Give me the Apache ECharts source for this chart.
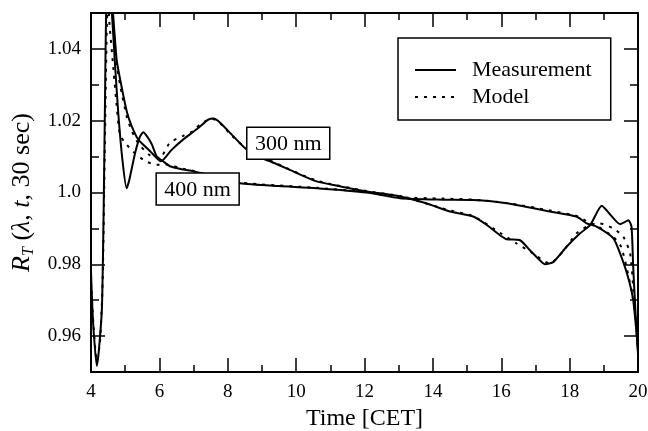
<!DOCTYPE html>
<html>
<head>
<meta charset="utf-8">
<script src="https://cdn.jsdelivr.net/npm/echarts@6/dist/echarts.min.js"></script>
<style>
html,body{margin:0;padding:0;background:#fff;}
#c{width:648px;height:431px;}
</style>
</head>
<body>
<div id="c"></div>
<script>
// ---- data ----
var xTicks = [4, 6, 8, 10, 12, 14, 16, 18, 20];
var yMajorTicks = [0.96, 0.98, 1.0, 1.02, 1.04];
var yMinorTicks = [0.97, 0.99, 1.01, 1.03];

var meas300 = [
  [4.00,0.978],[4.06,0.964],[4.17,0.9517],[4.23,0.956],[4.32,0.968],[4.37,0.995],[4.41,1.026],
  [4.45,1.052],[4.54,1.060],[4.64,1.0504],[4.75,1.037],[4.85,1.0316],[5.05,1.0224],[5.19,1.0185],
  [5.38,1.0148],[5.73,1.0115],[6.05,1.0087],[6.35,1.0118],[6.70,1.0148],[7.09,1.0176],[7.43,1.0203],
  [7.58,1.0206],[7.77,1.0195],[8.16,1.0157],[8.55,1.0120],[9.08,1.0092],[9.24,1.0087],[10.0,1.0055],
  [10.6,1.0031],[11.3,1.0017],[12.06,1.0003],[13.04,0.9989],[13.8,0.9970],[14.5,0.9947],[15.18,0.9933],
  [15.6,0.9908],[15.96,0.9881],[16.16,0.9870],[16.55,0.9867],[16.84,0.9839],[17.13,0.9811],[17.28,0.9800],
  [17.52,0.9806],[17.91,0.9849],[18.3,0.9886],[18.6,0.9909],[18.94,0.9963],[19.2,0.9937],[19.47,0.9912],
  [19.62,0.9918],[19.72,0.9923],[19.81,0.9905],[19.86,0.9792],[19.93,0.966],[20.0,0.955]
];
var model300 = [
  [4.00,0.975],[4.08,0.962],[4.17,0.953],[4.26,0.958],[4.34,0.975],[4.40,1.010],[4.46,1.045],
  [4.52,1.065],[4.62,1.0504],[4.75,1.036],[4.85,1.030],[5.05,1.021],[5.2,1.017],[5.38,1.0138],
  [5.7,1.0105],[6.0,1.0095],[6.31,1.0139],[6.7,1.0158],[6.99,1.0171],[7.19,1.019],[7.5,1.0205],
  [7.7,1.0200],[8.1,1.0160],[8.55,1.0122],[9.24,1.0089],[10.6,1.0033],[12.06,1.0004],[13.04,0.9990],
  [14.5,0.9950],[15.18,0.9934],[15.96,0.9888],[16.45,0.9858],[16.9,0.9832],[17.42,0.9802],[17.8,0.9835],
  [18.2,0.9886],[18.6,0.9910],[18.89,0.9914],[19.28,0.9900],[19.57,0.9877],[19.77,0.9830],[19.86,0.9736],
  [19.95,0.962],[20.0,0.957]
];
var meas400 = [
  [4.48,1.065],[4.61,1.0503],[4.70,1.036],[4.80,1.0218],[4.92,1.009],[5.04,1.0012],[5.12,1.0035],
  [5.29,1.011],[5.43,1.0155],[5.53,1.0168],[5.65,1.0155],[5.78,1.0134],[5.92,1.0101],[6.11,1.0087],
  [6.31,1.0073],[6.70,1.0064],[6.99,1.0059],[7.6,1.0044],[8.36,1.0026],[9.5,1.0018],[10.6,1.0012],
  [12.06,1.0000],[13.04,0.9984],[14.3,0.9980],[15.18,0.9979],[16.16,0.9970],[17.42,0.9947],[18.2,0.9933],
  [18.5,0.9914],[18.79,0.9905],[19.28,0.9872],[19.57,0.9806],[19.75,0.975],[19.86,0.970],[19.96,0.9606],
  [20.0,0.956]
];
var model400 = [
  [4.45,1.065],[4.53,1.0484],[4.66,1.034],[4.76,1.0232],[4.85,1.016],[5.05,1.0133],[5.23,1.0114],
  [5.58,1.0088],[5.93,1.0077],[6.2,1.0078],[6.7,1.0066],[7.0,1.0060],[8.36,1.0028],[10.6,1.0013],
  [12.06,1.0001],[13.04,0.9987],[14.3,0.9983],[15.18,0.9980],[16.16,0.9971],[17.42,0.9950],[18.2,0.9935],
  [18.5,0.9920],[18.79,0.9908],[19.28,0.9876],[19.5,0.985],[19.67,0.979],[19.86,0.970],[20.0,0.958]
];
var seriesNames = ['Measurement', 'Model'];
var annotations = [
  {text: '300 nm', x: 9.77, y: 1.0137},
  {text: '400 nm', x: 7.12, y: 1.0010}
];

// ---- chart ----
var FONT = 'Liberation Serif';
var chart = echarts.init(document.getElementById('c'), null, {renderer: 'canvas'});

function xAx(pos, labels) {
  return {
    type: 'value', min: 4, max: 20, interval: 2, position: pos,
    axisLine: {show: true, onZero: false, lineStyle: {color: '#000', width: 2}},
    axisTick: {show: true, inside: true, length: 14, lineStyle: {color: '#000', width: 1.5}},
    minorTick: {show: true, splitNumber: 2, length: 7, lineStyle: {color: '#000', width: 1.5}},
    splitLine: {show: false}, minorSplitLine: {show: false},
    axisLabel: {show: labels, color: '#000', fontFamily: FONT, fontSize: 19, margin: 11},
    name: labels ? 'Time [CET]' : '', nameLocation: 'middle', nameGap: 35,
    nameTextStyle: {color: '#000', fontFamily: FONT, fontSize: 24}
  };
}
function yAx(pos, ticks, len, labels, line) {
  var a = {
    type: 'value', min: 0.95, max: 1.05, position: pos,
    axisLine: {show: line, onZero: false, lineStyle: {color: '#000', width: 2}},
    axisTick: {show: true, inside: true, length: len, customValues: ticks, lineStyle: {color: '#000', width: 1.5}},
    splitLine: {show: false},
    axisLabel: {show: labels, customValues: ticks, color: '#000', fontFamily: FONT, fontSize: 19, margin: 10,
      formatter: function (v) { return Math.abs(v - 1) < 1e-9 ? '1.0' : v.toFixed(2); }}
  };
  if (labels) {
    a.name = '{i|R}{s|T} ({i|λ}, {i|t}, 30 sec)';
    a.nameLocation = 'middle';
    a.nameGap = 54;
    a.nameTextStyle = {color: '#000', fontFamily: FONT, fontSize: 26, lineHeight: 30,
      rich: {
        i: {fontStyle: 'italic', fontFamily: FONT, fontSize: 26, color: '#000', lineHeight: 30},
        s: {fontStyle: 'italic', fontFamily: FONT, fontSize: 16, color: '#000', lineHeight: 16, verticalAlign: 'bottom'}
      }};
  }
  return a;
}

function lineSeries(name, data, dotted) {
  return {
    name: name, type: 'line', data: data, symbol: 'none', smooth: 0.2, clip: true,
    xAxisIndex: 0, yAxisIndex: 0, animation: false,
    lineStyle: dotted ? {color: '#000', width: 2, type: [3, 6]} : {color: '#000', width: 2},
    itemStyle: {color: '#000'}
  };
}

chart.setOption({
  backgroundColor: '#fff',
  animation: false,
  grid: {left: 91, right: 10, top: 13, bottom: 59, containLabel: false, outerBoundsMode: 'none'},
  xAxis: [xAx('bottom', true), xAx('top', false)],
  yAxis: [
    yAx('left', yMajorTicks, 14, true, true),
    yAx('left', yMinorTicks, 8, false, false),
    yAx('right', yMajorTicks, 14, false, true),
    yAx('right', yMinorTicks, 8, false, false)
  ],
  legend: {
    data: seriesNames, orient: 'vertical', left: 398, top: 38,
    padding: [21, 19, 12, 16], itemWidth: 41, itemHeight: 14, itemGap: 5,
    borderColor: '#000', borderWidth: 1.5, backgroundColor: '#fff',
    itemStyle: {color: 'rgba(0,0,0,0)', borderColor: 'rgba(0,0,0,0)', borderWidth: 0, opacity: 0},
    textStyle: {color: '#000', fontFamily: FONT, fontSize: 22, lineHeight: 22},
    formatter: function (n) { return '  ' + n; }
  },
  series: [
    lineSeries(seriesNames[0], meas300, false),
    lineSeries(seriesNames[1], model300, true),
    lineSeries(seriesNames[0], meas400, false),
    lineSeries(seriesNames[1], model400, true)
  ]
});

var g = [];
annotations.forEach(function (a) {
  var p = chart.convertToPixel({xAxisIndex: 0, yAxisIndex: 0}, [a.x, a.y]);
  var w = 83, h = 32;
  g.push({type: 'rect', shape: {x: p[0] - w / 2, y: p[1] - h / 2, width: w, height: h},
    style: {fill: '#fff', stroke: '#000', lineWidth: 1.5}, z: 100});
  g.push({type: 'text', x: p[0], y: p[1] + 1, z: 101,
    style: {text: a.text, fill: '#000', font: '22px "Liberation Serif"', align: 'center', verticalAlign: 'middle'}});
});
chart.setOption({graphic: g});
</script>
</body>
</html>
